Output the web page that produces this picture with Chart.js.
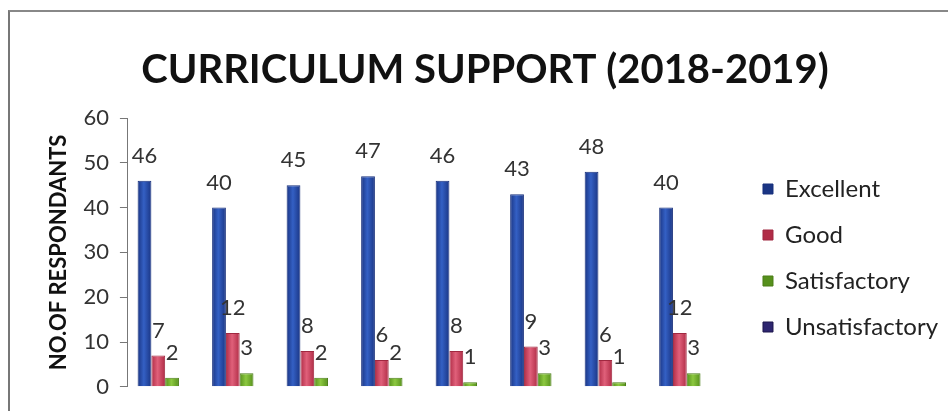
<!DOCTYPE html>
<html>
<head>
<meta charset="utf-8">
<script src="https://cdn.jsdelivr.net/npm/chart.js@4.4.1/dist/chart.umd.min.js"></script>
<style>
    html, body { margin: 0; padding: 0; background: #fff; }
    #wrap { position: relative; width: 948px; height: 411px; }
    #frame {
        position: absolute; left: 8px; top: 10px; right: 0; bottom: 0;
        border-left: 2px solid #777; border-top: 2px solid #888;
    }
    canvas { position: absolute; left: 0; top: 0; }
</style>
</head>
<body>
<div id="wrap">
    <div id="frame"></div>
    <canvas id="support-chart" width="948" height="411"></canvas>
</div>
<script>
const CATEGORIES = ["1", "2", "3", "4", "5", "6", "7", "8"];
const EXCELLENT = [46, 40, 45, 47, 46, 43, 48, 40];
const GOOD = [7, 12, 8, 6, 8, 9, 6, 12];
const SATISFACTORY = [2, 3, 2, 2, 1, 3, 1, 3];
const UNSATISFACTORY = [0, 0, 0, 0, 0, 0, 0, 0];
const Y_TICKS = [0, 10, 20, 30, 40, 50, 60];

const FONT = "Lato, 'Open Sans', sans-serif";

// bars look a bit rounded in the original: darker edges, lighter middle
const shaded = (base, light, dark) => context => {
    const el = context.element;
    if (!el || !Number.isFinite(el.x) || !el.width) {
        return base;
    }
    const g = context.chart.ctx.createLinearGradient(el.x - el.width / 2, 0, el.x + el.width / 2, 0);
    g.addColorStop(0, dark);
    g.addColorStop(0.45, light);
    g.addColorStop(1, dark);
    return g;
};

// draws the numbers above each bar (no datalabels plugin offline)
const valueLabels = {
    id: "valueLabels",
    afterDatasetsDraw(chart) {
        const ctx = chart.ctx;
        ctx.save();
        ctx.font = `22px ${FONT}`;
        ctx.fillStyle = "#333";
        ctx.textAlign = "center";
        ctx.textBaseline = "middle";
        chart.data.datasets.forEach((ds, i) => {
            if (i > 2) {
                return;
            }
            chart.getDatasetMeta(i).data.forEach((bar, j) => {
                ctx.fillText(String(ds.data[j]), bar.x, bar.y - 25);
            });
        });
        ctx.restore();
    }
};

document.addEventListener("DOMContentLoaded", () => {
    const canvas = document.getElementById("support-chart");

    const chart = new Chart(canvas, {
        type: "bar",
        data: {
            labels: CATEGORIES,
            datasets: [
                { label: "Excellent", data: EXCELLENT, backgroundColor: shaded("#2446a6", "#3460c4", "#1a3584"), borderColor: "#18307c", borderWidth: 1 },
                { label: "Good", data: GOOD, backgroundColor: shaded("#d2435d", "#e0607a", "#b02c46"), borderColor: "#a02840", borderWidth: 1 },
                { label: "Satisfactory", data: SATISFACTORY, backgroundColor: shaded("#72b22c", "#8cc840", "#56901c"), borderColor: "#4b7d17", borderWidth: 1 },
                { label: "Unsatisfactory", data: UNSATISFACTORY, backgroundColor: "#2e2670", borderColor: "#1d174d", borderWidth: 1 }
            ]
        },
        options: {
            responsive: false,
            animation: false,
            datasets: {
                bar: { categoryPercentage: 0.74, barPercentage: 1.0 }
            },
            layout: {
                padding: { top: 46, bottom: 10, left: 22, right: 0 }
            },
            plugins: {
                title: {
                    display: true,
                    text: "CURRICULUM SUPPORT (2018-2019)",
                    color: "#111",
                    font: { family: FONT, size: 40, weight: "bold" },
                    padding: { top: 0, bottom: 24 }
                },
                legend: {
                    position: "right",
                    maxWidth: 230,
                    title: {
                        display: true,
                        text: " ",
                        font: { size: 10 },
                        padding: { top: 0, bottom: 57 }
                    },
                    labels: {
                        color: "#222",
                        font: { family: FONT, size: 24 },
                        boxWidth: 10,
                        boxHeight: 10,
                        padding: 22
                    }
                },
                tooltip: { enabled: false }
            },
            scales: {
                x: { display: false },
                y: {
                    min: 0,
                    max: 60,
                    afterBuildTicks: axis => {
                        axis.ticks = Y_TICKS.map(v => ({ value: v }));
                    },
                    grid: { display: true, drawOnChartArea: false, drawTicks: true, tickLength: 8, color: "#777" },
                    border: { display: true, color: "#777", width: 1 },
                    ticks: { color: "#333", font: { family: FONT, size: 22 }, padding: 11 },
                    title: {
                        display: true,
                        text: "NO.OF RESPONDANTS",
                        color: "#111",
                        font: { family: FONT, size: 22, weight: "bold" },
                        padding: { top: 24, bottom: 0 }
                    }
                },
                // empty spacer between the plot and the legend
                gap: {
                    type: "linear",
                    position: "right",
                    display: true,
                    grid: { display: false },
                    border: { display: false },
                    ticks: { display: false },
                    afterFit: scale => { scale.width = 17; }
                }
            }
        },
        plugins: [valueLabels]
    });

    // second pass so the gradients can use the bar positions
    chart.update();
});
</script>
</body>
</html>
